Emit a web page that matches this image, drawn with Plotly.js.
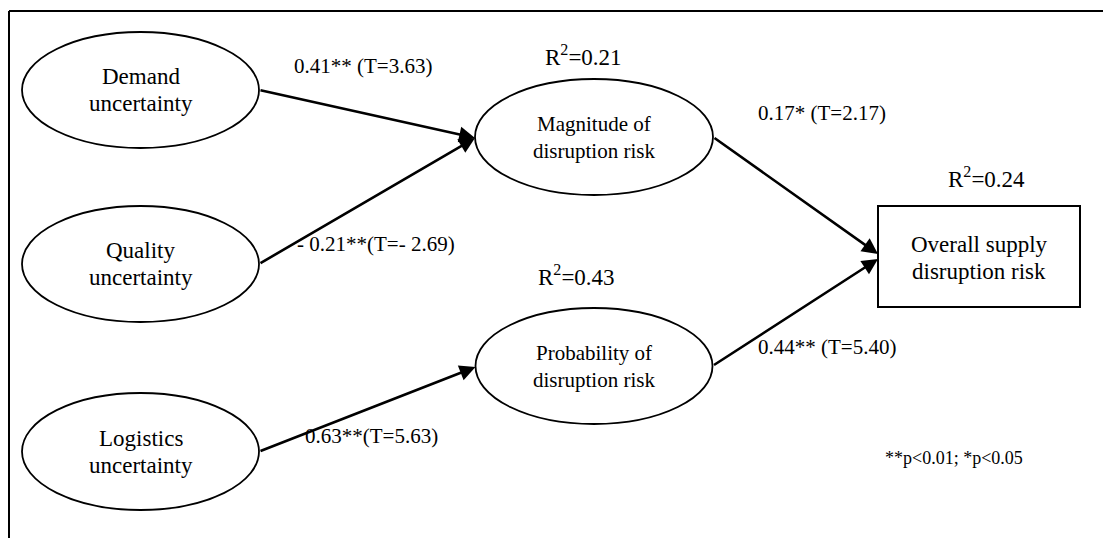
<!DOCTYPE html>
<html>
<head>
<meta charset="utf-8">
<script src="https://cdn.plot.ly/plotly-3.0.1.min.js"></script>
<style>
  html, body { margin: 0; padding: 0; background: #ffffff; }
  #chart { width: 1103px; height: 538px; }
</style>
</head>
<body>
<div id="chart"></div>
<script>
// ---------------- data ----------------
const nodeNames = ["Demand", "Quality", "Logistics", "Magnitude", "Probability"];
const nodeLines = [
  ["Demand", "uncertainty"],
  ["Quality", "uncertainty"],
  ["Logistics", "uncertainty"],
  ["Magnitude of", "disruption risk"],
  ["Probability of", "disruption risk"]
];
const outcomeLines = ["Overall supply", "disruption risk"];
const pathFrom = ["Demand", "Quality", "Logistics", "Magnitude", "Probability"];
const pathTo = ["Magnitude", "Magnitude", "Probability", "Outcome", "Outcome"];
const pathLabels = [
  "0.41** (T=3.63)",
  "- 0.21**(T=- 2.69)",
  "0.63**(T=5.63)",
  "0.17* (T=2.17)",
  "0.44** (T=5.40)"
];
const r2Targets = ["Magnitude", "Probability", "Outcome"];
const r2Values = ["0.21", "0.43", "0.24"];
const footnote = "**p<0.01; *p<0.05";

// ---------------- layout geometry ----------------
const nodeCX = [140.5, 140.5, 140.5, 594, 594];
const nodeCY = [90, 264, 451.5, 137, 366];
const nodeRX = [118.5, 118.5, 118.5, 119, 118.5];
const nodeRY = [58, 58, 58.5, 58, 58];
const nodeFont = [23, 23, 23, 21, 21];
const box = {x0: 878, x1: 1080, y0: 206, y1: 307};
const pathLabelPos = [[363, 66], [376, 244], [371, 436], [822, 113], [827, 347]];
const outcomeTipDY = [null, null, null, -2.5, 2.5];
const r2Pos = [[583, 55], [576, 275], [986, 177]];
const footPos = [954, 458];

const FONT = "Liberation Serif";
const shapes = [];
const annotations = [];

// frame (top and left borders)
shapes.push({type: "line", xref: "x", yref: "y", x0: 9, y0: 11, x1: 1103, y1: 11, line: {color: "#000", width: 2}});
shapes.push({type: "line", xref: "x", yref: "y", x0: 9, y0: 11, x1: 9, y1: 538, line: {color: "#000", width: 2}});

// ellipses + labels
nodeNames.forEach((n, i) => {
  shapes.push({
    type: "circle", xref: "x", yref: "y",
    x0: nodeCX[i] - nodeRX[i], x1: nodeCX[i] + nodeRX[i],
    y0: nodeCY[i] - nodeRY[i], y1: nodeCY[i] + nodeRY[i],
    line: {color: "#000", width: 1.8}, fillcolor: "rgba(0,0,0,0)"
  });
  nodeLines[i].forEach((t, k) => {
    annotations.push({
      x: nodeCX[i], y: nodeCY[i] + (k === 0 ? -13.5 : 13.5), xref: "x", yref: "y",
      text: t, showarrow: false, xanchor: "center", yanchor: "middle",
      font: {family: FONT, size: nodeFont[i], color: "#000"}
    });
  });
});

// outcome box
shapes.push({type: "rect", xref: "x", yref: "y", x0: box.x0, x1: box.x1, y0: box.y0, y1: box.y1,
  line: {color: "#000", width: 2}, fillcolor: "rgba(0,0,0,0)"});
const boxCX = (box.x0 + box.x1) / 2, boxCY = (box.y0 + box.y1) / 2;
outcomeLines.forEach((t, k) => {
  annotations.push({
    x: boxCX, y: boxCY + (k === 0 ? -12 : 15), xref: "x", yref: "y",
    text: t, showarrow: false, xanchor: "center", yanchor: "middle",
    font: {family: FONT, size: 23, color: "#000"}
  });
});

// arrows
pathFrom.forEach((f, i) => {
  const s = nodeNames.indexOf(f);
  const sx = nodeCX[s] + nodeRX[s], sy = nodeCY[s];
  let tx, ty;
  if (pathTo[i] === "Outcome") {
    tx = box.x0; ty = boxCY + outcomeTipDY[i];
  } else {
    const t = nodeNames.indexOf(pathTo[i]);
    tx = nodeCX[t] - nodeRX[t]; ty = nodeCY[t] + 1;
  }
  annotations.push({
    x: tx, y: ty, ax: sx, ay: sy, xref: "x", yref: "y", axref: "x", ayref: "y",
    text: "", showarrow: true, arrowhead: 2, arrowsize: 1.22, arrowwidth: 2.6,
    arrowcolor: "#000", standoff: 0
  });
  annotations.push({
    x: pathLabelPos[i][0], y: pathLabelPos[i][1], xref: "x", yref: "y",
    text: pathLabels[i].replace(/</g, "&lt;"), showarrow: false, xanchor: "center", yanchor: "middle",
    font: {family: FONT, size: 21, color: "#000"}
  });
});

// R² labels
r2Targets.forEach((t, i) => {
  annotations.push({
    x: r2Pos[i][0], y: r2Pos[i][1], xref: "x", yref: "y",
    text: "R<sup>2</sup>=" + r2Values[i], showarrow: false, xanchor: "center", yanchor: "middle",
    font: {family: FONT, size: 23, color: "#000"}
  });
});

// footnote
annotations.push({
  x: footPos[0], y: footPos[1], xref: "x", yref: "y",
  text: footnote.replace(/</g, "&lt;"), showarrow: false, xanchor: "center", yanchor: "middle",
  font: {family: FONT, size: 18, color: "#000"}
});

const layout = {
  width: 1103, height: 538,
  margin: {l: 0, r: 0, t: 0, b: 0, pad: 0},
  paper_bgcolor: "#ffffff", plot_bgcolor: "#ffffff",
  showlegend: false,
  font: {family: FONT, color: "#000"},
  xaxis: {range: [0, 1103], visible: false, fixedrange: true},
  yaxis: {range: [538, 0], visible: false, fixedrange: true},
  shapes: shapes,
  annotations: annotations
};

Plotly.newPlot("chart", [{x: [], y: [], type: "scatter", mode: "markers", hoverinfo: "skip"}], layout,
  {displayModeBar: false, staticPlot: true});
</script>
</body>
</html>
